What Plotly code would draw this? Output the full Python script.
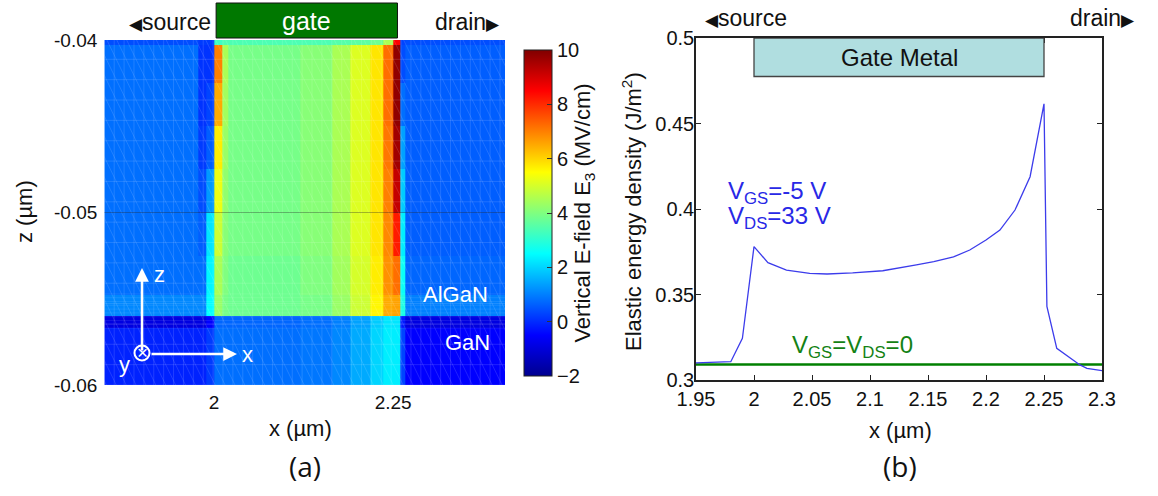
import numpy as np
import plotly.graph_objects as go

# ---------------- panel (a): vertical field E3 map ----------------
# cell edges along x (um) and z (um)
x_edges = [1.847, 1.978, 1.989, 2.0, 2.011, 2.02, 2.12, 2.165, 2.19,
           2.218, 2.236, 2.25, 2.26, 2.267, 2.406]
z_edges = [-0.06, -0.0567, -0.056, -0.0548, -0.0525, -0.05, -0.0475,
           -0.045, -0.0425, -0.0403, -0.04]

# E3 (MV/cm) per z-layer, bottom (GaN) to top (AlGaN surface)
e3_gan = [-0.1, -0.1, 0.2, 0.8, 0.8, 0.8, 0.9, 1.1, 1.5, 2.0, 2.3, 2.3, 0.3, -0.5]
e3_gan_interface = [-0.9, -0.9, -0.5, 0.7, 0.7, 0.7, 0.8, 1.0, 1.4, 1.9, 2.2, 2.2, -0.2, -0.9]
e3_algan_bottom = [1.1, 1.1, 2.5, 4.3, 3.9, 3.8, 3.9, 4.3, 4.9, 5.6, 6.5, 6.6, 2.8, 1.0]
e3_algan_5 = [0.8, 0.8, 2.4, 4.5, 4.0, 3.8, 4.0, 4.4, 5.0, 5.7, 6.8, 7.2, 2.6, 0.7]
e3_algan_4 = [0.8, 0.6, 2.2, 4.9, 4.1, 3.9, 4.1, 4.5, 5.1, 5.8, 6.9, 8.2, 2.3, 0.6]
e3_algan_3 = [0.8, 0.4, 1.3, 5.3, 4.2, 3.9, 4.1, 4.5, 5.1, 5.8, 7.0, 9.2, 1.9, 0.6]
e3_algan_2 = [0.8, 0.2, 0.6, 5.7, 4.3, 3.9, 4.1, 4.5, 5.1, 5.8, 7.1, 9.6, 1.4, 0.6]
e3_algan_1 = [0.8, 0.1, 0.3, 6.5, 4.4, 3.9, 4.1, 4.5, 5.1, 5.8, 7.2, 9.8, 0.8, 0.6]
e3_algan_top = [0.8, 0.1, 0.1, 7.0, 4.5, 3.9, 4.1, 4.5, 5.1, 5.8, 7.2, 9.8, 0.4, 0.6]
e3_surface = [0.4, 0.2, 0.2, 3.2, 3.4, 3.4, 3.4, 3.5, 3.6, 3.8, 4.5, 8.5, 0.3, 0.4]

e3_layers = [e3_gan, e3_gan_interface, e3_algan_bottom, e3_algan_5, e3_algan_4,
             e3_algan_3, e3_algan_2, e3_algan_1, e3_algan_top, e3_surface]

cbar_ticks = [-2, 0, 2, 4, 6, 8, 10]

# ---------------- panel (b): elastic energy density ----------------
x_um = [1.95, 1.98, 1.99, 2.0, 2.012, 2.028, 2.048, 2.063, 2.085, 2.111,
        2.14, 2.155, 2.172, 2.186, 2.2, 2.212, 2.225, 2.238, 2.25, 2.2525,
        2.261, 2.281, 2.287, 2.3]
w_biased = [0.31, 0.3107, 0.3244, 0.378, 0.3686, 0.3643, 0.3624, 0.362,
            0.3626, 0.3639, 0.3673, 0.3692, 0.372, 0.376, 0.3819, 0.3877,
            0.3994, 0.4189, 0.4615, 0.343, 0.3185, 0.3088, 0.3068, 0.3055]
x_zero = [1.95, 2.3]
w_zero = [0.309, 0.309]

W, H = 1158, 496
def px(x):
    return x / W
def py(y):
    return 1 - y / H

FONT = "Liberation Sans, Arial, sans-serif"
jet = [[0.0, "rgb(0,0,143)"], [0.125, "rgb(0,0,255)"], [0.375, "rgb(0,255,255)"],
       [0.625, "rgb(255,255,0)"], [0.875, "rgb(255,0,0)"], [1.0, "rgb(128,0,0)"]]

fig = go.Figure()

fig.add_trace(go.Heatmap(
    x=x_edges, y=z_edges, z=e3_layers, colorscale=jet, zmin=-2, zmax=10,
    xaxis="x", yaxis="y", hoverinfo="skip",
    colorbar=dict(
        x=px(514), xanchor="left", xref="paper",
        y=py(213), yanchor="middle", len=346 / H, lenmode="fraction",
        thickness=28, outlinewidth=1, outlinecolor="#222",
        tickvals=cbar_ticks, ticks="inside", ticklen=5, tickcolor="#333",
        tickfont=dict(family=FONT, size=20, color="#111"),
        title=dict(text="Vertical E-field E<sub>3</sub> (MV/cm)", side="right",
                   font=dict(family=FONT, size=22, color="#111")),
    ),
))

# finite-element mesh overlay on the field map
mx, mz = [], []
x0, x1 = x_edges[0], x_edges[-1]
z0, z1 = z_edges[0], z_edges[-1]
for xv in np.arange(x0, x1, 0.0138):
    mx += [xv, xv, None]; mz += [z0, z1, None]
for zv in np.arange(z0, z1, 0.00118):
    mx += [x0, x1, None]; mz += [zv, zv, None]
slope_dx = 0.0138 / 0.00118  # one cell across per cell down
for xs in np.arange(x0 - 0.3, x1, 0.0138):
    mx += [xs, xs + slope_dx * (z1 - z0), None]; mz += [z1, z0, None]
fig.add_trace(go.Scatter(x=mx, y=mz, mode="lines", xaxis="x", yaxis="y",
                         line=dict(color="rgba(255,255,255,0.16)", width=0.8),
                         hoverinfo="skip", showlegend=False))
# dense mesh rows near the AlGaN/GaN interface
ix, iz = [], []
for zv in np.arange(-0.0567, -0.0546, 0.00022):
    ix += [x0, x1, None]; iz += [zv, zv, None]
fig.add_trace(go.Scatter(x=ix, y=iz, mode="lines", xaxis="x", yaxis="y",
                         line=dict(color="rgba(255,255,255,0.14)", width=0.6),
                         hoverinfo="skip", showlegend=False))
fig.add_trace(go.Scatter(x=[x0, x1], y=[-0.05, -0.05], mode="lines", xaxis="x", yaxis="y",
                         line=dict(color="rgba(40,40,40,0.35)", width=1),
                         hoverinfo="skip", showlegend=False))

# panel (b) curves
fig.add_trace(go.Scatter(x=x_zero, y=w_zero, mode="lines", xaxis="x2", yaxis="y2",
                         line=dict(color="rgb(0,128,0)", width=2.5),
                         hoverinfo="skip", showlegend=False, cliponaxis=False))
fig.add_trace(go.Scatter(x=x_um, y=w_biased, mode="lines", xaxis="x2", yaxis="y2",
                         line=dict(color="rgb(60,60,235)", width=1.3),
                         hoverinfo="skip", showlegend=False))

tickfont = dict(family=FONT, size=19, color="#111")
tickfont_b = dict(family=FONT, size=20, color="#111")
fig.update_layout(
    width=W, height=H, margin=dict(l=0, r=0, t=0, b=0, autoexpand=False),
    paper_bgcolor="white", plot_bgcolor="white", showlegend=False,
    xaxis=dict(domain=[px(104.3), px(505)], range=[x0, x1], tickvals=[2, 2.25],
               ticktext=["2", "2.25"], ticks="", showgrid=False, zeroline=False,
               showline=False, tickfont=tickfont, ticklabelstandoff=4),
    yaxis=dict(domain=[py(385), py(40)], range=[z0, z1], tickvals=[-0.06, -0.05, -0.04],
               ticktext=["-0.06", "-0.05", "-0.04"], ticks="", showgrid=False,
               zeroline=False, showline=False, tickfont=tickfont, ticklabelstandoff=6),
    xaxis2=dict(domain=[px(696), px(1102)], range=[1.95, 2.3], anchor="y2",
                tickvals=[1.95, 2.0, 2.05, 2.1, 2.15, 2.2, 2.25, 2.3],
                ticktext=["1.95", "2", "2.05", "2.1", "2.15", "2.2", "2.25", "2.3"],
                ticks="inside", ticklen=5, tickcolor="#222", showline=True,
                linecolor="#222", linewidth=1.5, mirror="ticks", showgrid=False,
                zeroline=False, tickfont=tickfont_b, ticklabelstandoff=0),
    yaxis2=dict(domain=[py(380), py(38)], range=[0.3, 0.5], anchor="x2",
                tickvals=[0.3, 0.35, 0.4, 0.45, 0.5],
                ticktext=["0.3", "0.35", "0.4", "0.45", "0.5"],
                ticks="inside", ticklen=5, tickcolor="#222", showline=True,
                linecolor="#222", linewidth=1.5, mirror="ticks", showgrid=False,
                zeroline=False, tickfont=tickfont_b, ticklabelstandoff=-4),
)

shapes = [
    # gate electrode above the map
    dict(type="rect", xref="x", yref="paper", x0=2.003, x1=2.256, y0=py(38), y1=py(3),
         fillcolor="rgb(0,120,0)", line=dict(color="#111", width=1), layer="above"),
    # gate metal block in panel (b)
    dict(type="rect", xref="x2", yref="y2", x0=2.0, x1=2.25, y0=0.4775, y1=0.5,
         fillcolor="rgb(176,222,224)", line=dict(color="#444", width=1.3), layer="above"),
    # y-axis "into page" symbol circle
    dict(type="circle", xref="paper", yref="paper", x0=px(134.5), x1=px(149.5),
         y0=py(360.5), y1=py(345.5), line=dict(color="white", width=2)),
]
fig.update_layout(shapes=shapes)

ann = []
def text(x, y, t, size=20, color="#111", xanchor="center", yanchor="middle",
         family=FONT, textangle=0, xref="paper", yref="paper"):
    ann.append(dict(x=x, y=y, xref=xref, yref=yref, text=t, showarrow=False,
                    font=dict(family=family, size=size, color=color),
                    xanchor=xanchor, yanchor=yanchor, textangle=textangle))

TRI_L = '<span style="font-size:17px">◀</span>'
TRI_R = '<span style="font-size:17px">▶</span>'

# panel (a) labels
text(px(213), py(22), TRI_L + "source", size=23, xanchor="right")
text(px(306), py(21), "gate", size=25, color="white")
text(px(502), py(22), "drain" + TRI_R, size=23, xanchor="right")
text(px(24), py(212), "z (µm)", size=22, textangle=-90)
text(px(300), py(428), "x (µm)", size=22)
text(px(305), py(466), "(a)", size=28, family="Open Sans, sans-serif")
text(px(455), py(294), "AlGaN", size=22, color="white")
text(px(467), py(342), "GaN", size=22, color="white")
text(px(159), py(274), "z", size=22, color="white")
text(px(247), py(354), "x", size=22, color="white")
text(px(124), py(364), "y", size=22, color="white")
text(px(142), py(352.5), "×", size=19, color="white")

# coordinate arrows
ann.append(dict(x=px(142), y=py(268), xref="paper", yref="paper", ax=0, ay=84,
                showarrow=True, arrowhead=2, arrowsize=1.1, arrowwidth=2.5,
                arrowcolor="white", text=""))
ann.append(dict(x=px(237), y=py(354), xref="paper", yref="paper", ax=-87, ay=0,
                showarrow=True, arrowhead=2, arrowsize=1.1, arrowwidth=2.5,
                arrowcolor="white", text=""))

# panel (b) labels
text(px(703), py(18), TRI_L + "source", size=23, xanchor="left")
text(px(1137), py(18), "drain" + TRI_R, size=23, xanchor="right")
text(2.125, 0.4888, "Gate Metal", size=24, xref="x2", yref="y2")
text(1.976, 0.4095, "V<sub>GS</sub>=-5 V", size=24, color="rgb(40,40,230)",
     xanchor="left", xref="x2", yref="y2")
text(1.976, 0.395, "V<sub>DS</sub>=33 V", size=24, color="rgb(40,40,230)",
     xanchor="left", xref="x2", yref="y2")
text(2.031, 0.3195, "V<sub>GS</sub>=V<sub>DS</sub>=0", size=24, color="rgb(20,130,20)",
     xanchor="left", xref="x2", yref="y2")
text(px(632), py(212), "Elastic energy density (J/m<sup>2</sup>)", size=22, textangle=-90)
text(px(900), py(430), "x (µm)", size=22)
text(px(900), py(466), "(b)", size=28, family="Open Sans, sans-serif")

fig.update_layout(annotations=ann)
fig.write_html("out.html")
